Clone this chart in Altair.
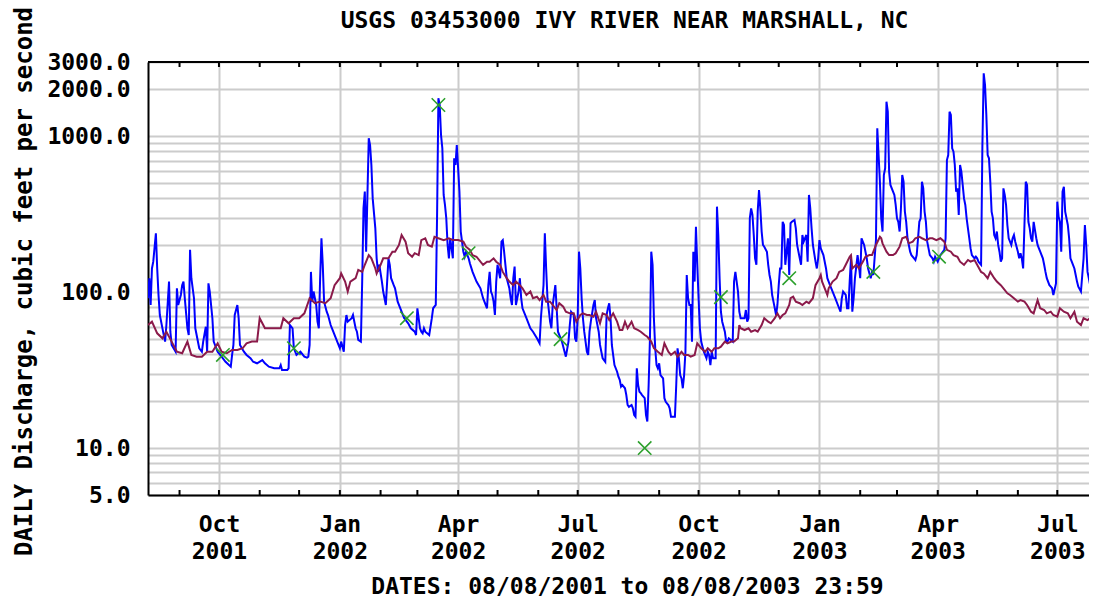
import altair as alt
import pandas as pd

START = "2001-08-08"
TITLE = "USGS 03453000 IVY RIVER NEAR MARSHALL, NC"
Y_TITLE = "DAILY Discharge, cubic feet per second"
X_TITLE = "DATES: 08/08/2001 to 08/08/2003 23:59"
FONT = "DejaVu Sans Mono"

# daily discharge (days since 2001-08-08, cfs)
blue_day = [
    0, 1, 2, 3, 4, 6, 7, 8, 9, 12,
    13, 14, 16, 17, 18, 21, 22, 23, 25, 26,
    27, 28, 30, 31, 32, 33, 35, 36, 39, 41,
    42, 44, 45, 46, 47, 49, 50, 53, 56, 59,
    63, 64, 65, 66, 68, 69, 70, 73, 75, 78,
    80, 83, 87, 89, 92, 96, 100, 101, 102, 106,
    107, 108, 110, 111, 113, 116, 119, 121,
    122, 123, 124, 125, 126, 128, 129, 130, 131, 132,
    133, 134, 136, 137, 139, 141, 144, 146, 147, 149,
    150, 151, 152, 155, 156, 158, 159, 160, 162, 163,
    164, 165, 166, 168, 169, 170, 171, 173, 174, 175,
    176, 178, 179, 180, 181, 183, 184, 185, 187, 188,
    190, 193, 195, 198, 200, 203, 204, 205, 207, 208,
    209, 210, 211, 214, 216, 217, 219, 220, 221, 222,
    223, 224, 225, 226, 227, 228, 229, 230, 232, 233,
    234, 235, 236, 237, 238, 240, 241,
    242, 244, 245, 247, 250, 253, 255, 258, 259, 260,
    261, 262, 263, 264, 265, 266, 268, 269, 270, 271,
    272, 273, 275, 276, 277, 278, 279, 280, 282, 283,
    284, 285, 288, 291, 293, 296, 298, 299, 301, 302,
    303, 304, 306, 307, 308, 310, 311, 312, 315, 317,
    318, 320, 321, 322, 324, 325, 326, 327, 328, 329,
    330, 331, 332, 334, 335, 336, 337, 339, 340, 341,
    343, 344, 345, 346, 348, 349, 350, 351, 352, 353,
    355, 357, 358, 359, 360,
    361, 363, 364, 365, 366, 368, 369, 370, 371, 372,
    373, 374, 375, 376, 378, 379, 380, 381, 382, 383,
    384, 385, 386, 387, 388, 389, 390, 392, 393, 394,
    396, 397, 398, 401, 402, 403, 404, 405, 406, 407,
    408, 409, 410, 411, 412, 413, 414, 415, 416, 417,
    418, 419, 420, 421, 422, 423, 424, 425, 426, 427,
    428, 429, 430, 432, 433, 434, 435, 436, 437, 439,
    440, 441, 442, 445, 446, 447, 449, 450, 451, 453,
    454, 455, 456, 457, 458, 459, 460, 461, 462, 463,
    464, 465, 466, 467, 468, 469, 471, 472, 473, 474,
    475, 476, 478, 479, 480, 481,
    482, 483, 484, 485, 486, 487, 488, 489, 490, 492,
    493, 494, 496, 497, 498, 499, 501, 502, 503, 504,
    505, 506, 508, 509, 510, 511, 512, 514, 516, 517,
    518, 519, 521, 523, 525, 527, 528, 529, 531, 532,
    533, 534, 535, 536, 537, 538, 540, 541, 542, 543,
    545, 546, 547, 548, 550, 551, 552, 554, 555, 556,
    557, 558, 559, 560, 561, 562, 563, 564, 565, 567,
    568, 569, 570, 571, 572, 573, 574, 575, 576, 577,
    578, 579, 580, 581, 583, 584, 585, 587, 588, 589,
    590, 591, 592, 593, 594, 595, 597, 598, 599,
    601, 603, 606, 607, 608, 609, 610, 611, 612, 613,
    614, 615, 616, 617, 618, 619, 620, 621, 622, 623,
    624, 625, 626, 627, 629, 630, 631, 632, 634, 635,
    636, 637, 638, 639, 640, 641, 642, 643, 644, 645,
    646, 647, 648, 649, 650, 651, 652, 653, 654, 655,
    657, 658, 659, 660, 661, 662, 663, 664, 665, 666,
    667, 668, 669, 670, 671, 672, 673, 674, 676, 677,
    678, 679, 681, 682, 683, 684, 686, 687, 688, 689,
    691, 692, 693, 694, 695, 696, 697, 698, 700, 701,
    702, 703, 705, 706, 707, 708, 710, 711, 712, 713,
    714, 715, 716, 717, 719, 720, 721, 722,
]
blue_cfs = [
    91.5, 123, 82.8, 142, 157, 239, 142, 96, 71.4, 53.1,
    48.2, 61.6, 117, 55.8, 45.9, 41.5, 106, 82.8, 96, 111,
    117, 91.5, 58.7, 53.1, 187, 123, 91.5, 58.7, 43.7, 41.5,
    48.2, 60.1, 41.5, 114, 101, 68.1, 48.2, 41.5, 38.6, 35.8,
    33.3, 39.6, 45.9, 71.4, 82.8, 68.1, 45.9, 41.5, 39.6, 37.7,
    35.8, 35, 36.7, 35, 33.3, 32.5, 32.5, 34.1, 31.7, 31.7,
    32.5, 61.6, 58.7, 43.7, 39.6, 41.5, 38.6, 38,
    38.6, 45.9, 135, 87, 101, 82.8, 64.7, 58.7, 123, 222,
    150, 87, 75, 71.4, 61.6, 55.8, 48.2, 43.7, 48.2, 41.5,
    61.6, 71.4, 64.7, 68.1, 71.4, 58.7, 55.8, 49.4, 48.2, 117,
    345, 442, 182, 972, 880, 655, 400, 257, 165, 135,
    150, 117, 101, 91.5, 82.8, 165, 150, 123, 111, 106,
    87, 75, 68.1, 63.2, 58.7, 55.8, 53.1, 78.9, 58.7, 55.8,
    54.5, 58.7, 55.8, 53.1, 68.1, 78.9, 82.8, 313, 1755, 1589,
    1020, 838, 421, 363, 298, 201, 165, 222, 165, 723,
    655, 880, 624, 442, 245, 182, 169,
    182, 165, 153, 135, 117, 106, 91.5, 78.9, 111, 135,
    101, 96, 87, 71.4, 117, 150, 123, 211, 216, 182,
    150, 123, 106, 91.5, 82.8, 123, 146, 82.8, 101, 123,
    91.5, 78.9, 68.1, 58.7, 55.8, 50.6, 47, 68.1, 111, 239,
    142, 91.5, 64.7, 58.7, 82.8, 111, 78.9, 55.8, 48.2, 41.5,
    38.6, 48.2, 61.6, 75, 71.4, 50.6, 48.2, 68.1, 182, 142,
    91.5, 68.1, 55.8, 41.5, 39.6, 55.8, 64.7, 82.8, 89, 68.1,
    55.8, 45.9, 41.5, 37.7, 35.8, 71.4, 78.9, 85, 68.1, 45.9,
    34.1, 30.9, 28.7, 27.4, 24.8,
    25.4, 24.2, 21.9, 18.9, 18.4, 18.9, 18.0, 16.3, 15.9, 32.5,
    25.4, 23.0, 22.5, 21.9, 20.9, 16.3, 14.8, 25.4, 50.6, 182,
    150, 68.1, 43.7, 34.1, 32.5, 35, 29.4, 28.0, 20.9, 19.8,
    18.9, 18.0, 15.9, 15.9, 25.4, 43.7, 37.7, 29.4, 28.0, 24.2,
    29.4, 41.5, 129, 91.5, 82.8, 82.8, 48.2, 182, 117, 263,
    150, 91.5, 58.7, 48.2, 44.7, 41.5, 39.6, 37.7, 41.5, 39.6,
    34.1, 41.5, 37.7, 37.7, 354, 233, 123, 75, 64.7, 55.8,
    48.2, 48.2, 50.6, 48.2, 117, 135, 101, 75, 68.1, 68.1,
    68.1, 76.9, 64.7, 68.1, 298, 345, 313, 233, 165, 150,
    329, 453, 345, 245, 201, 196, 182, 150, 129, 117,
    96, 87, 71.4, 82.8, 111, 142,
    142, 283, 270, 150, 182, 222, 129, 277, 283, 291,
    257, 201, 165, 150, 233, 211, 233, 157, 421, 345,
    257, 201, 157, 142, 165, 216, 191, 173, 142, 123,
    117, 111, 101, 91.5, 82.8, 75, 91.5, 101, 96, 78.9,
    78.9, 117, 165, 75, 91.5, 123, 173, 150, 123, 222,
    201, 182, 165, 142, 123, 135, 129, 216, 1126, 759,
    512, 298, 245, 565, 624, 1669, 1440, 593, 488, 442,
    421, 363, 298, 283, 245, 345, 565, 512, 329, 283,
    222, 201, 182, 173, 165, 161, 173, 283, 298, 512,
    464, 329, 283, 211, 191, 173, 165, 157, 169,
    157, 173, 187, 222, 705, 759, 1440, 1371, 838, 797,
    655, 442, 464, 313, 655, 593, 488, 400, 363, 298,
    257, 222, 191, 173, 165, 169, 165, 157, 150, 880,
    2538, 2136, 1371, 759, 723, 512, 329, 298, 233, 222,
    245, 201, 182, 157, 165, 464, 421, 363, 270, 222,
    201, 222, 233, 211, 196, 182, 165, 178, 165, 142,
    270, 512, 488, 283, 257, 222, 211, 283, 222, 201,
    191, 182, 165, 150, 135, 123, 111, 108.5, 106, 96,
    114, 381, 305, 283, 182, 442, 475, 329, 270, 222,
    165, 157, 142, 129, 117, 108.5, 101, 129, 165, 270,
    201, 135, 123, 111, 101, 93.5, 211, 216,
]

# median daily statistic (days since 2001-08-08, cfs)
median_day = [
    0, 3, 7, 11, 14, 18, 22, 26, 30, 33, 37, 41, 45, 49, 53, 56, 60, 64, 68, 72,
    75, 79, 83, 85, 89, 93, 97, 101, 103, 107, 111, 115, 119,
    123, 127, 131, 135, 139, 142, 146, 147, 150, 152, 154, 158, 160, 163, 165, 168, 170,
    173, 174, 177, 179, 183, 186, 188, 191, 193, 196, 198, 201, 203, 206, 208, 211, 213,
    216, 218, 221, 225, 229, 232, 236, 240,
    242, 245, 247, 250, 253, 255, 258, 260, 263, 265, 268, 270, 273, 275, 278, 280, 283,
    285, 288, 291, 293, 296, 298, 301, 303, 306, 308, 311, 313, 316, 318, 321, 324, 326,
    329, 331, 334, 336, 339, 341, 344, 346, 349, 351, 354, 357, 359, 361,
    363, 365, 368, 370, 373, 375, 378, 380, 383, 384, 385, 388, 391, 393, 396, 398, 401,
    403, 406, 408, 411, 413, 416, 418, 421, 424, 426, 429, 431, 434, 436, 439, 441, 444,
    446, 449, 450, 451, 454, 457, 459, 462, 464, 467, 469, 472, 474, 477, 479, 481,
    483, 485, 488, 489, 491, 493, 496, 498, 501, 503, 506, 508, 511, 512, 513, 516, 517,
    518, 521, 524, 526, 529, 531, 534, 535, 536, 539, 541, 544, 546, 549, 551, 554, 557,
    558, 559, 562, 564, 567, 569, 572, 574, 577, 579, 582, 584, 587, 589, 592, 595, 597, 600,
    603, 606, 608, 611, 613, 616, 618, 621, 624, 626, 629, 631, 634, 636, 639, 641, 644,
    646, 649, 651, 654, 656, 659, 662, 664, 667, 669, 672, 674, 677, 679, 682, 684, 687,
    689, 692, 694, 697, 700, 702, 705, 707, 710, 712, 715, 717, 720, 722,
]
median_cfs = [
    61.6, 64.7, 54.5, 50.6, 55.8, 48.2, 41.5, 40.6, 48.2, 39.6, 38.6, 38.6, 41.5, 41.5, 47, 41.5, 40.6, 42.6, 42.6, 43.7,
    47, 48.2, 48.2, 68.1, 58.7, 58.7, 58.7, 58.7, 68.1, 63.2, 68.1, 68.1, 73.2,
    91.5, 85, 87, 85, 91.5, 111, 123, 132, 117, 101, 117, 123, 139, 135, 150, 173, 165,
    142, 132, 150, 165, 165, 182, 182, 201, 233, 211, 178, 169, 178, 173, 216, 222, 201,
    196, 227, 222, 216, 222, 216, 216, 211,
    196, 187, 173, 169, 157, 150, 157, 157, 165, 157, 150, 135, 123, 117, 111, 117, 111,
    106, 96, 101, 91.5, 93.6, 89, 96, 87, 87, 82.8, 76.9, 85, 80.8, 75, 73.2, 73.2, 64.7,
    71.4, 73.2, 71.4, 71.4, 69.7, 75, 63.2, 73.2, 71.4, 66.3, 73.2, 64.7, 57.2, 57.2,
    64.7, 58.7, 64.7, 58.7, 57.2, 55.8, 53.1, 51.8, 48.2, 45.9, 43.7, 41.5, 39.6, 47, 41.5, 39.6, 41.5,
    38.6, 41.5, 39.6, 39.6, 38.6, 39.6, 47, 43.7, 41.5, 43.7, 41.5, 43.7, 43.7, 44.7, 48.2, 47, 48.2,
    48.2, 50.6, 61.6, 58.7, 57.2, 58.7, 55.8, 57.2, 55.8, 61.6, 68.1, 64.7, 63.2, 68.1, 73.2, 68.1,
    71.4, 73.2, 82.8, 91.5, 93.6, 87, 85, 82.8, 87, 85, 91.5, 111, 123, 129, 117, 101, 96,
    106, 117, 123, 135, 139, 150, 169, 173, 142, 150, 142, 157, 169, 173, 173, 201, 227,
    222, 206, 182, 173, 173, 178, 196, 222, 227, 206, 211, 222, 227, 222, 216, 222, 222, 216,
    222, 211, 187, 182, 173, 169, 157, 150, 161, 157, 161, 150, 135, 132, 123, 135, 123,
    117, 111, 106, 98.4, 96, 91.5, 87, 89, 87, 82.8, 75, 73.2, 89, 78.9, 76.9, 73.2, 75,
    71.4, 69.7, 78.9, 75, 73.2, 68.1, 75, 64.7, 61.6, 68.1, 66.3, 68.1, 66.3, 69.7,
]

# field measurements (days since 2001-08-08, cfs)
meas_day = [57, 111, 197, 221, 244, 314, 378, 436, 488, 552, 602]
meas_cfs = [39.6, 43.7, 68.1, 1589, 178, 50, 10, 93, 123, 135, 169]

y_grid = [5, 6, 7, 8, 9, 10, 20, 30, 40, 50, 60, 70, 80, 90,
          100, 200, 300, 400, 500, 600, 700, 800, 900, 1000, 2000, 3000]
y_labeled = [5, 10, 100, 1000, 2000, 3000]
quarter_ticks = ["2001-10-01", "2002-01-01", "2002-04-01", "2002-07-01",
                 "2002-10-01", "2003-01-01", "2003-04-01", "2003-07-01"]
month_ticks = list(pd.date_range("2001-09-01", "2003-07-01", freq="MS").strftime("%Y-%m-%d"))

assert len(blue_day) == len(blue_cfs)
assert len(median_day) == len(median_cfs)


def frame(days, vals):
    d = pd.Timestamp(START) + pd.to_timedelta(days, unit="D")
    return pd.DataFrame({"date": d.strftime("%Y-%m-%d"), "cfs": vals})


def dt(s, hours=0):
    t = pd.Timestamp(s)
    return alt.DateTime(year=t.year, month=t.month, date=t.day, hours=hours, utc=True)


blue_df = frame(blue_day, blue_cfs)
median_df = frame(median_day, median_cfs)
meas_df = frame(meas_day, meas_cfs)
month_df = pd.DataFrame({"date": month_ticks})

W, H = 941, 433
GRID = "#cccccc"

x_enc = alt.X(
    "date:T",
    title=X_TITLE,
    scale=alt.Scale(type="utc", domain=[dt("2001-08-08"), dt("2003-07-25", 3)], nice=False),
    axis=alt.Axis(
        values=[dt(q) for q in quarter_ticks],
        grid=True, gridColor=GRID, gridWidth=2,
        ticks=False, domain=True, domainColor="#000000", domainWidth=2,
        labelExpr="[utcFormat(datum.value, '%b'), utcFormat(datum.value, '%Y')]",
        labelFont=FONT, labelFontSize=23, labelFontWeight="bold", labelColor="#000000",
        labelLineHeight=27, labelPadding=18, labelOverlap=False, labelFlush=False,
        titleFont=FONT, titleFontSize=23, titleFontWeight="bold", titleColor="#000000",
        titlePadding=12, titleX=479,
    ),
)
y_enc = alt.Y(
    "cfs:Q",
    title=Y_TITLE,
    scale=alt.Scale(type="log", domain=[5, 3000], nice=False),
    axis=alt.Axis(
        values=y_grid,
        grid=True, gridColor=GRID, gridWidth=2,
        ticks=False, domain=True, domainColor="#000000", domainWidth=2,
        labelExpr="indexof(" + str(y_labeled) + ", datum.value) >= 0 ? format(datum.value, '.1f') : ''",
        labelFont=FONT, labelFontSize=23, labelFontWeight="bold", labelColor="#000000",
        labelPadding=18, labelOverlap=False,
        titleFont=FONT, titleFontSize=24, titleFontWeight="bold", titleColor="#000000",
        titlePadding=10, titleY=219,
    ),
)

blue = alt.Chart(blue_df).mark_line(color="#0000ff", strokeWidth=2, clip=True).encode(x=x_enc, y=y_enc)
median = alt.Chart(median_df).mark_line(color="#8b1a4a", strokeWidth=2, clip=True).encode(x=x_enc, y=y_enc)
meas = alt.Chart(meas_df).mark_point(
    shape="M-1,-1L1,1M-1,1L1,-1", filled=False, color="#2ca02c",
    strokeWidth=1.6, size=180, opacity=1, clip=True,
).encode(x=x_enc, y=y_enc)

ticks_bottom = alt.Chart(month_df).mark_rule(color="#000000", strokeWidth=2).encode(
    x=x_enc, y=alt.value(H), y2=alt.value(H - 5))
ticks_top = alt.Chart(month_df).mark_rule(color="#000000", strokeWidth=2).encode(
    x=x_enc, y=alt.value(0), y2=alt.value(5))
top_border = alt.Chart(pd.DataFrame({"k": [0]})).mark_rule(color="#000000", strokeWidth=2).encode(
    x=alt.value(0), x2=alt.value(W), y=alt.value(0))

chart = alt.layer(blue, median, meas, ticks_bottom, ticks_top, top_border).properties(
    width=W, height=H,
    title=alt.Title(TITLE, font=FONT, fontSize=23, fontWeight="bold", color="#000000",
                    anchor="middle", frame="group", offset=-27, dx=6),
    autosize=alt.AutoSizeParams(type="none"),
    padding={"left": 140, "top": 54, "right": 0, "bottom": 103},
    background="#ffffff",
).configure_view(stroke="transparent")

chart.save("out.html", embed_options={"renderer": "svg", "actions": False})
